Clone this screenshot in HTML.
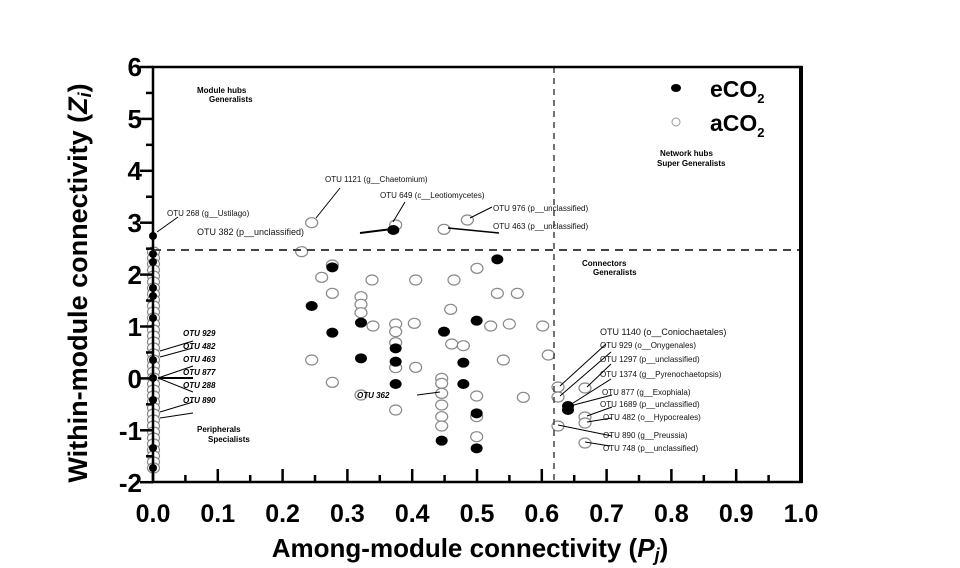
<!DOCTYPE html>
<html><head><meta charset="utf-8"><style>
html,body{margin:0;padding:0;background:#fff;width:960px;height:568px;overflow:hidden}
svg text{font-family:"Liberation Sans",sans-serif}
</style></head><body>
<svg id="s" width="960" height="568" xmlns="http://www.w3.org/2000/svg">
<rect width="960" height="568" fill="#fff"/>
<g id="pts"></g>
<line x1="153" y1="250" x2="801" y2="250" stroke="#444" stroke-width="2" stroke-dasharray="8,6"/>
<line x1="554" y1="67" x2="554" y2="482" stroke="#444" stroke-width="1.5" stroke-dasharray="6,5"/>
<rect x="153" y="67" width="648" height="415" fill="none" stroke="#000" stroke-width="2.5"/>
<line x1="801" y1="66" x2="801" y2="483" stroke="#000" stroke-width="4"/>
<g id="ticks" stroke="#000" stroke-width="2.5"></g>
<g font-weight="bold" font-size="26" text-anchor="end">
<text x="142" y="76">6</text><text x="142" y="128">5</text><text x="142" y="180">4</text><text x="142" y="232">3</text><text x="142" y="284">2</text><text x="142" y="336">1</text><text x="142" y="388">0</text><text x="142" y="440">-1</text><text x="142" y="492">-2</text>
</g>
<g font-weight="bold" font-size="25" text-anchor="middle" id="xl"></g>
<text x="470" y="557" font-weight="bold" font-size="26" text-anchor="middle">Among-module connectivity (<tspan font-style="italic">P</tspan><tspan font-style="italic" font-size="18" dy="4">j</tspan><tspan dy="-4">)</tspan></text>
<text transform="translate(87,283) rotate(-90)" font-weight="bold" font-size="27" text-anchor="middle">Within-module connectivity (<tspan font-style="italic">Z</tspan><tspan font-style="italic" font-size="18" dy="4">i</tspan><tspan dy="-4">)</tspan></text>
<ellipse cx="676" cy="88" rx="5" ry="4" fill="#000"/>
<text x="710" y="97" font-weight="bold" font-size="23">eCO<tspan font-size="13" dy="6">2</tspan></text>
<ellipse cx="676" cy="122" rx="4" ry="4" fill="none" stroke="#999"/>
<text x="710" y="131" font-weight="bold" font-size="23">aCO<tspan font-size="13" dy="6">2</tspan></text>
<g font-size="8" font-weight="bold">
<text x="197" y="93">Module hubs</text><text x="209" y="102">Generalists</text>
<text x="660" y="156">Network hubs</text><text x="657" y="166">Super Generalists</text>
<text x="582" y="266">Connectors</text><text x="593" y="275">Generalists</text>
<text x="197" y="432">Peripherals</text><text x="208" y="442">Specialists</text>
</g>
<g font-size="8" fill="#111">
<text x="167" y="216">OTU 268 (g__Ustilago)</text>
<text x="197" y="235" font-size="9">OTU 382 (p__unclassified)</text>
<text x="325" y="182">OTU 1121 (g__Chaetomium)</text>
<text x="380" y="198">OTU 649 (c__Leotiomycetes)</text>
<text x="493" y="211">OTU 976 (p__unclassified)</text>
<text x="493" y="229">OTU 463 (p__unclassified)</text>
<text x="600" y="335" font-size="9">OTU 1140 (o__Coniochaetales)</text>
<text x="600" y="348">OTU 929 (o__Onygenales)</text>
<text x="600" y="362">OTU 1297 (p__unclassified)</text>
<text x="600" y="377">OTU 1374 (g__Pyrenochaetopsis)</text>
<text x="602" y="395">OTU 877 (g__Exophiala)</text>
<text x="600" y="407">OTU 1689 (p__unclassified)</text>
<text x="603" y="420">OTU 482 (o__Hypocreales)</text>
<text x="603" y="438">OTU 890 (g__Preussia)</text>
<text x="603" y="451">OTU 748 (p__unclassified)</text>
</g>
<g font-size="8" font-style="italic" font-weight="bold">
<text x="183" y="336">OTU 929</text><text x="183" y="349">OTU 482</text><text x="183" y="362">OTU 463</text><text x="183" y="375">OTU 877</text><text x="183" y="388">OTU 288</text><text x="183" y="403">OTU 890</text>
<text x="357" y="398">OTU 362</text>
</g>
<g stroke="#000" stroke-width="1" fill="none">
<line x1="157" y1="232" x2="178" y2="217"/>
<line x1="316" y1="218" x2="340" y2="188"/>
<line x1="393" y1="222" x2="405" y2="202"/>
<line x1="360" y1="233" x2="392" y2="229" stroke-width="2"/>
<line x1="470" y1="218" x2="492" y2="207"/>
<line x1="448" y1="228" x2="499" y2="233" stroke-width="1.5"/>
<line x1="417" y1="395" x2="440" y2="392"/>
<line x1="160" y1="351" x2="193" y2="341"/><line x1="160" y1="357" x2="193" y2="348"/>
<line x1="158" y1="378" x2="193" y2="366"/><line x1="158" y1="378" x2="193" y2="378" stroke-width="2"/>
<line x1="158" y1="378" x2="193" y2="392"/>
<line x1="160" y1="412" x2="193" y2="402"/><line x1="160" y1="418" x2="193" y2="413"/>
<line x1="560" y1="386" x2="606" y2="344"/><line x1="560" y1="396" x2="611" y2="352"/>
<line x1="587" y1="387" x2="611" y2="364"/><line x1="570" y1="405" x2="611" y2="379"/>
<line x1="570" y1="406" x2="612" y2="395"/><line x1="587" y1="416" x2="612" y2="407"/>
<line x1="587" y1="422" x2="612" y2="418"/><line x1="558" y1="425" x2="612" y2="436"/>
<line x1="585" y1="442" x2="610" y2="446"/>
</g>
</svg>
<script>
var NS="http://www.w3.org/2000/svg",g=document.getElementById('pts'),t=document.getElementById('ticks'),xl=document.getElementById('xl');
function el(p,n,a){var e=document.createElementNS(NS,n);for(var k in a)e.setAttribute(k,a[k]);p.appendChild(e);return e;}
function o(x,y){el(g,'ellipse',{cx:x,cy:y,rx:6,ry:5,fill:'#fff',stroke:'#888','stroke-width':1.2});}
function f(x,y){el(g,'ellipse',{cx:x,cy:y,rx:6,ry:5,fill:'#000'});}
var Z=[[35,128],[287,135],[432,148],[502,120],[5,215],[97,255],[65,292],[216,300],[347,300],[462,300],[531,265],[97,340],[592,340],[652,340],[183,350],[183,373],[183,398],[219,438],[287,432],[287,455],[343,430],[452,388],[572,438],[628,432],[728,438],[455,492],[490,497],[35,540],[287,488],[287,563],[347,562],[610,540],[745,525],[97,607],[183,645],[287,690],[425,595],[425,610],[425,640],[425,675],[425,710],[425,738],[530,648],[530,710],[530,770],[670,652]];
Z.forEach(function(p){o(300+p[0]/3,180+p[1]/3);});
[[558,387],[558,397],[585,388],[585,417],[585,423],[558,426],[585,443]].forEach(function(p){o(p[0],p[1]);});
for(var y=252;y<=470;y+=6)o(153.5,y);
var F=[[280,150],[97,262],[35,378],[183,428],[97,458],[183,535],[287,505],[287,545],[287,612],[432,455],[530,422],[490,548],[490,612],[592,238],[425,782],[530,805],[530,700]];
F.forEach(function(p){f(300+p[0]/3,180+p[1]/3);});
f(568,406);f(568,410);
[236,254,262,288,296,318,360,378,400,448,468].forEach(function(y){el(g,'ellipse',{cx:153,cy:y,rx:4,ry:4,fill:'#000'});});
for(var i=0;i<=8;i++){var y=67+i*51.9;el(t,'line',{x1:140,y1:y,x2:153,y2:y});if(i<8)el(t,'line',{x1:146,y1:y+25.95,x2:153,y2:y+25.95});}
for(var i=0;i<=10;i++){var x=153+i*64.8;el(t,'line',{x1:x,y1:482,x2:x,y2:469});if(i<10)el(t,'line',{x1:x+32.4,y1:482,x2:x+32.4,y2:475});
var tx=el(xl,'text',{x:x,y:522});tx.textContent=(i/10).toFixed(1);}
</script>
</body></html>
